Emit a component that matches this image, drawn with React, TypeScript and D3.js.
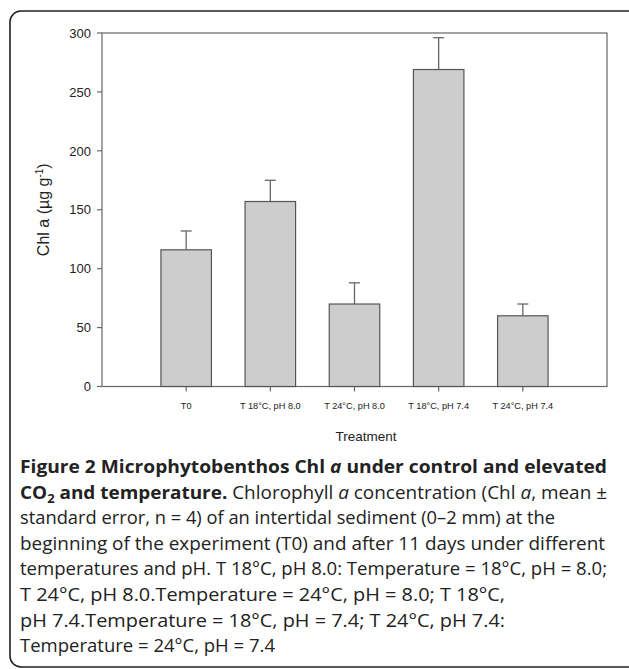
import * as React from 'react';
import {scaleBand, scaleLinear} from 'd3';

const categories = ['T0', 'T 18°C, pH 8.0', 'T 24°C, pH 8.0', 'T 18°C, pH 7.4', 'T 24°C, pH 7.4'];
const means = [116, 157, 70, 269, 60];
const stdErrors = [16, 18, 18, 27, 10];
const yTicks = [0, 50, 100, 150, 200, 250, 300];

const width = 629;
const height = 669;
const plot = {left: 102, right: 607, top: 33, bottom: 386.5};

const xScale = scaleBand()
    .domain(categories)
    .range([plot.left, plot.right])
    .paddingInner(0.4)
    .paddingOuter(0.7);

const yScale = scaleLinear()
    .domain([0, 300])
    .range([plot.bottom, plot.top]);

const axisColor = '#666';
const chartFont = '"Liberation Sans", Arial, sans-serif';
const captionFont = '"Open Sans", sans-serif';

export default function App() {
    const bw = xScale.bandwidth();
    const lineH = 25.6;
    const cap0 = 473;
    return (
        <svg width={width} height={height} style={{position: 'absolute', left: 0, top: 0}}>
            <rect x={0} y={0} width={width} height={height} fill="#fff"/>
            {/* frame */}
            <rect x={10} y={11} width={640} height={656} rx={11} ry={11}
                  fill="none" stroke="#222" strokeWidth={1.6}/>

            {/* plot box */}
            <rect x={plot.left} y={plot.top} width={plot.right - plot.left} height={plot.bottom - plot.top}
                  fill="none" stroke={axisColor} strokeWidth={1.2}/>

            {/* error bars */}
            {means.map((m, i) => {
                const cx = (xScale(categories[i]) as number) + bw / 2;
                return (
                    <g key={'e' + i} stroke={axisColor} strokeWidth={1.3}>
                        <line x1={cx} x2={cx} y1={yScale(m)} y2={yScale(m + stdErrors[i])}/>
                        <line x1={cx - 5.5} x2={cx + 5.5} y1={yScale(m + stdErrors[i])} y2={yScale(m + stdErrors[i])}/>
                    </g>
                );
            })}

            {/* bars */}
            {means.map((m, i) => (
                <rect key={'b' + i}
                      x={xScale(categories[i])}
                      y={yScale(m)}
                      width={bw}
                      height={yScale(0) - yScale(m)}
                      fill="#cdcdcd"
                      stroke="#555"
                      strokeWidth={1.2}/>
            ))}

            {/* y axis */}
            {yTicks.map(t => (
                <g key={'y' + t}>
                    <line x1={plot.left - 5} x2={plot.left} y1={yScale(t)} y2={yScale(t)} stroke={axisColor} strokeWidth={1.2}/>
                    <text x={plot.left - 11} y={yScale(t)} dy="0.36em" textAnchor="end"
                          fontFamily={chartFont} fontSize={13} fill="#222">{t}</text>
                </g>
            ))}
            <text transform={`translate(49,${yScale(150)}) rotate(-90)`} textAnchor="middle"
                  fontFamily={chartFont} fontSize={16} fill="#222">
                Chl a (µg g<tspan dy={-6} fontSize={10}>-1</tspan><tspan dy={6}>)</tspan>
            </text>

            {/* x axis */}
            {categories.map((c, i) => {
                const cx = (xScale(c) as number) + bw / 2;
                return (
                    <g key={'x' + i}>
                        <line x1={cx} x2={cx} y1={plot.bottom} y2={plot.bottom + 5} stroke={axisColor} strokeWidth={1.2}/>
                        <text x={cx} y={plot.bottom + 22} textAnchor="middle"
                              fontFamily={chartFont} fontSize={9.2} fill="#222">{c}</text>
                    </g>
                );
            })}
            <text x={366} y={441} textAnchor="middle" fontFamily={chartFont} fontSize={13.5} fill="#222">Treatment</text>

            {/* caption */}
            <g fontFamily={captionFont} fontSize={17.5} fill="#222">
                <text x={20} y={cap0} textLength={587} lengthAdjust="spacingAndGlyphs" fontWeight="bold">
                    Figure 2 Microphytobenthos Chl <tspan fontStyle="italic">a</tspan> under control and elevated
                </text>
                <text x={20} y={cap0 + lineH} textLength={587} lengthAdjust="spacingAndGlyphs">
                    <tspan fontWeight="bold">CO</tspan><tspan fontWeight="bold" fontSize={12} dy={4}>2</tspan>
                    <tspan fontWeight="bold" dy={-4}> and temperature.</tspan> Chlorophyll <tspan fontStyle="italic">a</tspan> concentration (Chl <tspan fontStyle="italic">a</tspan>, mean ±
                </text>
                <text x={20} y={cap0 + lineH * 2} textLength={535} lengthAdjust="spacingAndGlyphs">
                    standard error, n = 4) of an intertidal sediment (0–2 mm) at the
                </text>
                <text x={20} y={cap0 + lineH * 3} textLength={585} lengthAdjust="spacingAndGlyphs">
                    beginning of the experiment (T0) and after 11 days under different
                </text>
                <text x={20} y={cap0 + lineH * 4} textLength={587} lengthAdjust="spacingAndGlyphs">
                    temperatures and pH. T 18°C, pH 8.0: Temperature = 18°C, pH = 8.0;
                </text>
                <text x={20} y={cap0 + lineH * 5} textLength={485} lengthAdjust="spacingAndGlyphs">
                    T 24°C, pH 8.0.Temperature = 24°C, pH = 8.0; T 18°C,
                </text>
                <text x={20} y={cap0 + lineH * 6} textLength={485} lengthAdjust="spacingAndGlyphs">
                    pH 7.4.Temperature = 18°C, pH = 7.4; T 24°C, pH 7.4:
                </text>
                <text x={20} y={cap0 + lineH * 7} textLength={255} lengthAdjust="spacingAndGlyphs">
                    Temperature = 24°C, pH = 7.4
                </text>
            </g>
        </svg>
    );
}
